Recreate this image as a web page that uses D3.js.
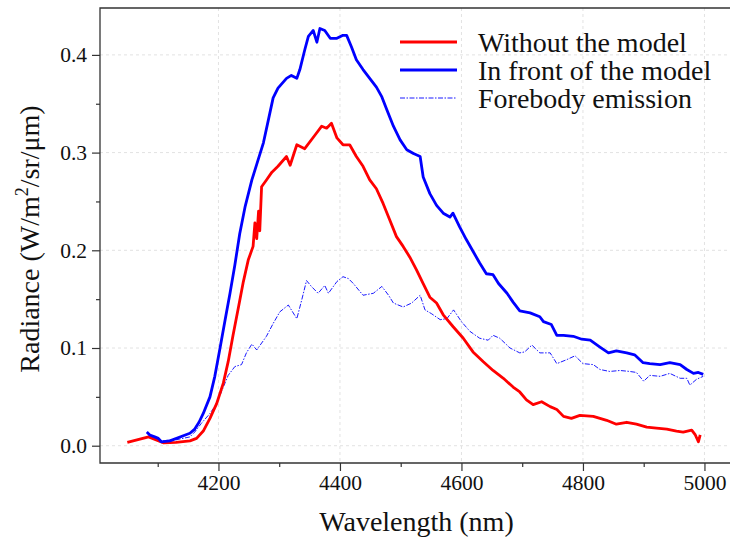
<!DOCTYPE html>
<html>
<head>
<meta charset="utf-8">
<script src="https://cdn.jsdelivr.net/npm/d3@7"></script>
<style>
  html, body { margin: 0; padding: 0; background: #fff; }
  svg { display: block; font-family: "Liberation Serif", "Times New Roman", serif; }
</style>
</head>
<body>
<div id="chart"></div>
<script>
// series values: [wavelength nm, radiance]
const withoutModel = [
  [4050, 0.0035], [4085, 0.009], [4109, 0.003], [4130, 0.0035], [4153, 0.005], [4164, 0.0075],
  [4175, 0.015], [4186, 0.028], [4197, 0.043], [4208, 0.064], [4216, 0.086], [4224, 0.113],
  [4233, 0.142], [4241, 0.168], [4249, 0.19], [4257, 0.204], [4260, 0.228], [4263, 0.212],
  [4266, 0.24], [4268, 0.22], [4271, 0.265], [4279, 0.272], [4288, 0.28], [4298, 0.286],
  [4312, 0.296], [4318, 0.287], [4329, 0.308], [4342, 0.304], [4359, 0.318], [4370, 0.327],
  [4378, 0.325], [4386, 0.33], [4395, 0.315], [4405, 0.308], [4416, 0.308], [4427, 0.296],
  [4438, 0.286], [4449, 0.272], [4460, 0.263], [4471, 0.248], [4482, 0.231], [4493, 0.214],
  [4504, 0.204], [4515, 0.193], [4526, 0.18], [4537, 0.166], [4548, 0.152], [4559, 0.146],
  [4570, 0.134], [4586, 0.122], [4603, 0.11], [4619, 0.096], [4636, 0.086], [4652, 0.077],
  [4669, 0.069], [4685, 0.06], [4696, 0.055], [4707, 0.047], [4718, 0.042], [4732, 0.045],
  [4746, 0.04], [4757, 0.037], [4768, 0.03], [4781, 0.028], [4795, 0.031], [4817, 0.03],
  [4839, 0.026], [4855, 0.022], [4872, 0.024], [4888, 0.022], [4905, 0.019], [4921, 0.018],
  [4938, 0.017], [4954, 0.015], [4965, 0.014], [4979, 0.016], [4985, 0.011], [4990, 0.004],
  [4993, 0.011]
];

const inFrontOfModel = [
  [4082, 0.014], [4087, 0.011], [4095, 0.009], [4101, 0.0075], [4106, 0.004], [4120, 0.005],
  [4153, 0.0127], [4161, 0.017], [4168, 0.024], [4175, 0.033], [4186, 0.05], [4194, 0.071],
  [4202, 0.098], [4211, 0.129], [4219, 0.156], [4227, 0.185], [4235, 0.217], [4244, 0.245],
  [4255, 0.272], [4265, 0.292], [4274, 0.31], [4282, 0.333], [4290, 0.356], [4298, 0.366],
  [4312, 0.376], [4320, 0.379], [4329, 0.376], [4334, 0.385], [4342, 0.405], [4348, 0.419],
  [4356, 0.425], [4362, 0.413], [4367, 0.427], [4375, 0.425], [4384, 0.417], [4395, 0.417],
  [4405, 0.42], [4411, 0.42], [4419, 0.408], [4427, 0.395], [4438, 0.385], [4449, 0.376],
  [4460, 0.367], [4469, 0.357], [4477, 0.344], [4488, 0.327], [4499, 0.313], [4510, 0.303],
  [4521, 0.299], [4532, 0.296], [4537, 0.275], [4548, 0.258], [4559, 0.246], [4570, 0.238],
  [4581, 0.234], [4586, 0.238], [4597, 0.224], [4608, 0.211], [4619, 0.199], [4630, 0.187],
  [4641, 0.176], [4652, 0.175], [4661, 0.166], [4675, 0.156], [4685, 0.147], [4696, 0.138],
  [4713, 0.136], [4729, 0.132], [4735, 0.127], [4748, 0.124], [4757, 0.113], [4768, 0.113],
  [4784, 0.112], [4798, 0.109], [4812, 0.108], [4828, 0.101], [4842, 0.095], [4855, 0.097],
  [4872, 0.095], [4885, 0.093], [4899, 0.085], [4910, 0.084], [4927, 0.083], [4943, 0.085],
  [4960, 0.083], [4971, 0.078], [4982, 0.074], [4990, 0.075], [4998, 0.073]
];

const forebodyEmission = [
  [4085, 0.011], [4104, 0.005], [4130, 0.006], [4153, 0.009], [4161, 0.014], [4172, 0.023],
  [4186, 0.033], [4197, 0.043], [4208, 0.06], [4216, 0.072], [4227, 0.081], [4238, 0.083],
  [4246, 0.095], [4255, 0.104], [4263, 0.098], [4279, 0.112], [4290, 0.125], [4301, 0.137],
  [4315, 0.144], [4329, 0.13], [4337, 0.149], [4345, 0.169], [4353, 0.163], [4364, 0.156],
  [4375, 0.164], [4381, 0.156], [4395, 0.168], [4405, 0.173], [4414, 0.171], [4422, 0.166],
  [4438, 0.154], [4455, 0.156], [4469, 0.163], [4480, 0.154], [4488, 0.146], [4504, 0.142],
  [4518, 0.146], [4532, 0.154], [4540, 0.139], [4551, 0.135], [4565, 0.129], [4576, 0.13],
  [4587, 0.139], [4600, 0.127], [4614, 0.117], [4630, 0.11], [4644, 0.108], [4652, 0.113],
  [4663, 0.11], [4680, 0.1], [4696, 0.095], [4704, 0.096], [4716, 0.103], [4729, 0.095],
  [4746, 0.095], [4757, 0.084], [4773, 0.088], [4787, 0.092], [4800, 0.084], [4817, 0.083],
  [4828, 0.078], [4844, 0.076], [4861, 0.077], [4877, 0.076], [4888, 0.075], [4900, 0.066],
  [4910, 0.072], [4927, 0.071], [4943, 0.074], [4960, 0.069], [4971, 0.069], [4976, 0.062],
  [4987, 0.068], [4998, 0.071]
];

// ticks
const xMajorTicks = [4200, 4400, 4600, 4800, 5000];
const xMinorTicks = [4100, 4300, 4500, 4700, 4900];
const yMajorTicks = [0.0, 0.1, 0.2, 0.3, 0.4];
const yMinorTicks = [0.05, 0.15, 0.25, 0.35];

const seriesNames = ["Without the model", "In front of the model", "Forebody emission"];

const width = 730, height = 538;
const plotLeft = 100, plotRight = 733, plotTop = 8, plotBottom = 463;

const svg = d3.select("#chart").append("svg")
    .attr("width", width)
    .attr("height", height);

const x = d3.scaleLinear().domain([4005, 5047]).range([plotLeft, plotRight]);
const y = d3.scaleLinear().domain([-0.0177, 0.448]).range([plotBottom, plotTop]);

// grid
const grid = svg.append("g");
grid.selectAll("line.gx")
    .data(xMajorTicks)
    .enter().append("line")
    .attr("x1", d => x(d)).attr("x2", d => x(d))
    .attr("y1", plotTop).attr("y2", plotBottom)
    .attr("stroke", "#e2e2e2").attr("stroke-width", 1)
    .attr("stroke-dasharray", "3,3");
grid.selectAll("line.gy")
    .data(yMajorTicks)
    .enter().append("line")
    .attr("x1", plotLeft).attr("x2", plotRight)
    .attr("y1", d => y(d)).attr("y2", d => y(d))
    .attr("stroke", "#e2e2e2").attr("stroke-width", 1)
    .attr("stroke-dasharray", "3,3");

// axes
const xAxis = svg.append("g")
    .attr("transform", `translate(0,${plotBottom})`)
    .call(d3.axisBottom(x).tickValues(xMajorTicks).tickSize(8).tickPadding(4).tickFormat(d3.format("d")));
const xMinor = svg.append("g")
    .attr("transform", `translate(0,${plotBottom})`)
    .call(d3.axisBottom(x).tickValues(xMinorTicks).tickSize(4).tickFormat(""));
const yAxis = svg.append("g")
    .attr("transform", `translate(${plotLeft},0)`)
    .call(d3.axisLeft(y).tickValues(yMajorTicks).tickSize(8).tickPadding(5).tickFormat(d3.format(".1f")));
const yMinor = svg.append("g")
    .attr("transform", `translate(${plotLeft},0)`)
    .call(d3.axisLeft(y).tickValues(yMinorTicks).tickSize(4).tickFormat(""));

[xAxis, xMinor, yAxis, yMinor].forEach(g => {
  g.select(".domain").remove();
  g.selectAll(".tick line").attr("stroke", "#333").attr("stroke-width", 1.2);
  g.selectAll(".tick text")
      .attr("fill", "#111")
      .style("font-family", "'Liberation Serif', 'Times New Roman', serif")
      .style("font-size", "21.5px");
});

// frame (left, top, bottom; right side runs off the page)
svg.append("path")
    .attr("d", `M${plotRight},${plotTop}H${plotLeft}V${plotBottom}H${plotRight}`)
    .attr("fill", "none")
    .attr("stroke", "#333")
    .attr("stroke-width", 1.3);

// lines
const line = d3.line().x(d => x(d[0])).y(d => y(d[1]));

svg.append("path")
    .datum(forebodyEmission)
    .attr("d", line)
    .attr("fill", "none")
    .attr("stroke", "#0000ff")
    .attr("stroke-width", 0.9)
    .attr("stroke-dasharray", "5,1.5,1.5,1.5");

svg.append("path")
    .datum(withoutModel)
    .attr("d", line)
    .attr("fill", "none")
    .attr("stroke", "#ff0000")
    .attr("stroke-width", 2.8)
    .attr("stroke-linejoin", "round");

svg.append("path")
    .datum(inFrontOfModel)
    .attr("d", line)
    .attr("fill", "none")
    .attr("stroke", "#0000ff")
    .attr("stroke-width", 2.8)
    .attr("stroke-linejoin", "round");

// legend
const legendStyles = [
  { color: "#ff0000", w: 2.8, dash: null },
  { color: "#0000ff", w: 2.8, dash: null },
  { color: "#0000ff", w: 0.9, dash: "5,1.5,1.5,1.5" }
];
const legend = svg.append("g");
seriesNames.forEach((name, i) => {
  const ly = 42 + i * 28;
  const s = legendStyles[i];
  legend.append("line")
      .attr("x1", 400).attr("x2", 457)
      .attr("y1", ly).attr("y2", ly)
      .attr("stroke", s.color)
      .attr("stroke-width", s.w)
      .attr("stroke-dasharray", s.dash);
  legend.append("text")
      .attr("x", 478).attr("y", ly + 9.5)
      .attr("fill", "#111")
      .style("font-size", "28px")
      .text(name);
});

// axis titles
svg.append("text")
    .attr("x", (plotLeft + plotRight) / 2)
    .attr("y", 531)
    .attr("text-anchor", "middle")
    .attr("fill", "#111")
    .style("font-size", "28px")
    .text("Wavelength (nm)");

const yTitle = svg.append("text")
    .attr("transform", "translate(39,239) rotate(-90)")
    .attr("text-anchor", "middle")
    .attr("fill", "#111")
    .style("font-size", "28px");
yTitle.append("tspan").text("Radiance (W/m");
yTitle.append("tspan").attr("dy", -11).style("font-size", "18px").text("2");
yTitle.append("tspan").attr("dy", 11).text("/sr/\u03bcm)");
</script>
</body>
</html>
